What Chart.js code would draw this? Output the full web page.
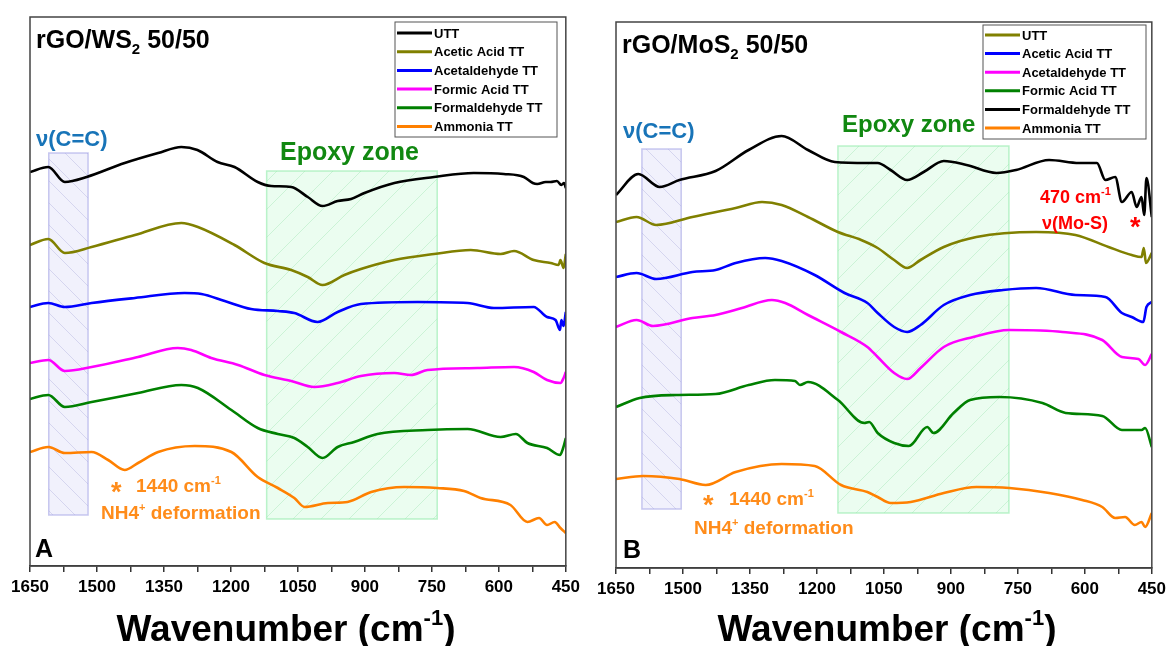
<!DOCTYPE html>
<html>
<head>
<meta charset="utf-8">
<script src="https://cdn.jsdelivr.net/npm/chart.js@4.4.0/dist/chart.umd.min.js"></script>
<style>
    body { margin: 0; background: #fff; }
    #wrap { position: relative; width: 1171px; height: 646px; }
    .panel { position: absolute; top: 0; height: 646px; }
</style>
</head>
<body>
<div id="wrap">
    <div class="panel" style="left:0;width:585px"><canvas id="chartA" width="585" height="646"></canvas></div>
    <div class="panel" style="left:585px;width:586px"><canvas id="chartB" width="586" height="646"></canvas></div>
</div>
<script>
// LEGEND LABELS (same order in both panels)
const labels = ['UTT', 'Acetic Acid TT', 'Acetaldehyde TT', 'Formic Acid TT', 'Formaldehyde TT', 'Ammonia TT'];

// X AXIS
const axisMin = 450;
const axisMax = 1650;
const tickStep = 75;
const labelStep = 150;

// PANEL A : rGO/WS2 50/50  (wavenumber, offset intensity a.u.)
const wsUttX = [1650, 1609, 1572, 1523, 1438, 1363, 1311, 1275, 1230, 1192, 1140, 1110, 1065, 1028, 995, 961, 931, 901, 834, 745, 656, 589, 544, 524, 514, 495, 484, 470, 460, 454, 450];
const wsUttY = [394, 399, 384, 389, 403, 413, 419, 416, 404, 399, 384, 380, 379, 369, 360, 365, 367, 373, 383, 389, 393, 392, 389, 383, 382, 384, 384, 385, 381, 383, 378];

const wsAceticX = [1650, 1609, 1572, 1512, 1415, 1311, 1274, 1192, 1125, 1065, 1028, 995, 946, 909, 834, 745, 663, 596, 566, 522, 484, 466, 462, 455, 450];
const wsAceticY = [321, 327, 313, 319, 331, 343, 339, 321, 303, 296, 289, 281, 291, 297, 306, 312, 316, 312, 315, 306, 303, 301, 306, 298, 312];

const wsAcetaldX = [1650, 1609, 1572, 1512, 1415, 1304, 1266, 1214, 1155, 1095, 1058, 1006, 961, 909, 782, 670, 611, 522, 492, 473, 463, 460, 455, 450];
const wsAcetaldY = [259, 263, 259, 263, 268, 273, 272, 265, 257, 255, 253, 244, 254, 262, 264, 263, 258, 259, 249, 246, 236, 246, 240, 254];

const wsFormicX = [1650, 1609, 1572, 1512, 1408, 1319, 1289, 1244, 1184, 1125, 1065, 1013, 961, 909, 834, 797, 760, 648, 566, 522, 492, 462, 455, 450];
const wsFormicY = [203, 206, 195, 199, 209, 218, 216, 208, 201, 191, 185, 179, 183, 190, 193, 191, 196, 198, 199, 194, 186, 183, 188, 194];

const wsFormaldX = [1650, 1609, 1572, 1512, 1408, 1311, 1274, 1199, 1140, 1095, 1058, 1028, 995, 961, 924, 872, 760, 670, 596, 562, 536, 492, 463, 456, 450];
const wsFormaldY = [167, 171, 159, 164, 173, 181, 178, 156, 138, 132, 128, 119, 108, 119, 124, 132, 136, 137, 129, 132, 123, 118, 111, 118, 128];

const wsAmmoniaX = [1650, 1609, 1572, 1512, 1475, 1438, 1408, 1363, 1281, 1199, 1140, 1095, 1058, 1035, 983, 939, 886, 812, 738, 678, 641, 574, 536, 510, 492, 475, 462, 450];
const wsAmmoniaY = [114, 119, 113, 114, 106, 96, 103, 114, 120, 114, 89, 78, 68, 59, 63, 64, 74, 79, 78, 75, 68, 61, 44, 48, 41, 44, 38, 33];

// PANEL B : rGO/MoS2 50/50
const moUttX = [1650, 1604, 1560, 1479, 1382, 1323, 1279, 1220, 1153, 1101, 1064, 1027, 998, 968, 916, 843, 709, 621, 547, 495, 473, 468, 463, 450];
const moUttY = [346, 351, 343, 351, 360, 366, 363, 351, 336, 328, 320, 308, 300, 308, 321, 331, 336, 333, 321, 313, 311, 320, 305, 315];

const moAceticX = [1650, 1604, 1560, 1479, 1427, 1382, 1316, 1279, 1205, 1138, 1087, 1064, 1027, 998, 968, 916, 857, 783, 709, 621, 554, 517, 495, 469, 462, 450];
const moAceticY = [291, 295, 289, 296, 298, 305, 310, 307, 293, 275, 265, 255, 241, 236, 243, 263, 273, 278, 280, 273, 271, 255, 251, 246, 261, 266];

const moAcetaldX = [1650, 1604, 1567, 1479, 1427, 1368, 1301, 1271, 1220, 1146, 1087, 1064, 1027, 998, 968, 916, 850, 769, 650, 561, 517, 480, 465, 450];
const moAcetaldY = [241, 248, 242, 250, 253, 260, 268, 265, 253, 236, 221, 211, 195, 189, 200, 221, 231, 238, 236, 228, 211, 209, 203, 214];

const moFormicX = [1650, 1597, 1515, 1427, 1353, 1294, 1249, 1238, 1220, 1153, 1094, 1083, 1064, 1027, 994, 953, 939, 894, 857, 791, 695, 643, 561, 517, 473, 465, 450];
const moFormicY = [161, 170, 173, 174, 183, 188, 187, 183, 186, 168, 145, 146, 135, 125, 122, 141, 135, 155, 168, 171, 165, 155, 152, 138, 138, 140, 121];

const moFormaldX = [1650, 1600, 1552, 1508, 1427, 1353, 1279, 1220, 1160, 1087, 1064, 1035, 998, 961, 916, 865, 798, 754, 680, 613, 573, 554, 532, 517, 495, 484, 473, 467, 462, 450];
const moFormaldY = [373, 394, 381, 388, 397, 418, 432, 418, 406, 405, 405, 398, 388, 396, 407, 403, 395, 398, 408, 405, 405, 388, 391, 366, 376, 361, 371, 353, 390, 351];

const moAmmoniaX = [1650, 1589, 1508, 1449, 1382, 1279, 1205, 1146, 1087, 1064, 1035, 990, 916, 843, 769, 680, 606, 561, 532, 510, 488, 473, 465, 450];
const moAmmoniaY = [89, 92, 89, 83, 96, 104, 102, 83, 76, 71, 65, 66, 75, 81, 80, 75, 68, 61, 50, 51, 43, 46, 41, 55];

// SHADED ZONES [from, to, top, bottom]
const wsCC = [1608, 1520, 413, 51];
const wsEpoxy = [1120, 738, 395, 47];
const moCC = [1592, 1504, 419, 59];
const moEpoxy = [1153, 770, 422, 55];

const ORANGE = '#ff8c1a';
const FONT = '"Liberation Sans", Arial, sans-serif';

function points(xs, ys) {
    return xs.map((x, i) => ({ x: x, y: ys[i] }));
}

function makeSets(series, colors) {
    return series.map((s, i) => ({
        label: labels[i],
        data: points(s[0], s[1]),
        borderColor: colors[i],
        borderWidth: 2.6,
        pointRadius: 0,
        fill: false,
        cubicInterpolationMode: 'monotone'
    }));
}

// HATCH PATTERN
function hatch(ctx, color, size, dir) {
    const c = document.createElement('canvas');
    c.width = size; c.height = size;
    const g = c.getContext('2d');
    g.strokeStyle = color;
    g.lineWidth = 1;
    g.beginPath();
    if (dir > 0) {
        g.moveTo(0, size); g.lineTo(size, 0);
        g.moveTo(-2, 2); g.lineTo(2, -2);
        g.moveTo(size - 2, size + 2); g.lineTo(size + 2, size - 2);
    } else {
        g.moveTo(0, 0); g.lineTo(size, size);
        g.moveTo(size - 2, -2); g.lineTo(size + 2, 2);
        g.moveTo(-2, size - 2); g.lineTo(2, size + 2);
    }
    g.stroke();
    return ctx.createPattern(c, 'repeat');
}

// TEXT WITH SUB / SUPERSCRIPTS
function rich(ctx, t) {
    const size = t.size;
    const fontFor = m => 'bold ' + (m ? Math.round(size * 0.6) : size) + 'px ' + FONT;
    let w = 0;
    t.parts.forEach(([s, m]) => { ctx.font = fontFor(m); w += ctx.measureText(s).width; });
    let cx = t.align === 'center' ? t.x - w / 2 : t.x;
    ctx.fillStyle = t.color || '#000';
    ctx.textBaseline = 'alphabetic';
    ctx.textAlign = 'left';
    t.parts.forEach(([s, m]) => {
        ctx.font = fontFor(m);
        const dy = m === 1 ? -size * 0.42 : (m === -1 ? size * 0.25 : 0);
        ctx.fillText(s, cx, t.y + dy);
        cx += ctx.measureText(s).width;
    });
}

const decor = {
    id: 'decor',
    beforeDatasetsDraw(chart, args, opts) {
        const { ctx, scales: { x, y } } = chart;
        opts.zones.forEach(z => {
            const x1 = x.getPixelForValue(z.range[0]);
            const x2 = x.getPixelForValue(z.range[1]);
            const y1 = y.getPixelForValue(z.range[2]);
            const y2 = y.getPixelForValue(z.range[3]);
            ctx.save();
            ctx.fillStyle = z.fill;
            ctx.fillRect(x1, y1, x2 - x1, y2 - y1);
            ctx.fillStyle = hatch(ctx, z.hatch, z.step, z.dir);
            ctx.fillRect(x1, y1, x2 - x1, y2 - y1);
            ctx.strokeStyle = z.border;
            ctx.lineWidth = 1.5;
            ctx.strokeRect(x1, y1, x2 - x1, y2 - y1);
            ctx.restore();
        });
    },
    afterDraw(chart, args, opts) {
        const { ctx, chartArea: a } = chart;
        ctx.save();

        // FRAME
        ctx.strokeStyle = '#444';
        ctx.lineWidth = 1.5;
        ctx.strokeRect(a.left, a.top, a.right - a.left, a.bottom - a.top);

        // LEGEND
        const L = opts.legend;
        ctx.strokeStyle = '#555';
        ctx.lineWidth = 1;
        ctx.strokeRect(L.x, L.y, L.w, L.h);
        chart.data.datasets.forEach((ds, i) => {
            const yy = L.y + L.first + i * L.gap;
            ctx.strokeStyle = ds.borderColor;
            ctx.lineWidth = 3;
            ctx.beginPath();
            ctx.moveTo(L.x + 2, yy);
            ctx.lineTo(L.x + 37, yy);
            ctx.stroke();
            ctx.fillStyle = '#000';
            ctx.font = 'bold 13px ' + FONT;
            ctx.textBaseline = 'middle';
            ctx.fillText(ds.label, L.x + 39, yy + 1);
        });

        // ANNOTATIONS
        opts.texts.forEach(t => rich(ctx, t));
        ctx.restore();
    }
};

function makeChart(id, sets, o) {
    return new Chart(document.getElementById(id), {
        type: 'line',
        data: { datasets: sets },
        plugins: [decor],
        options: {
            responsive: false,
            animation: false,
            events: [],
            layout: { padding: o.padding },
            scales: {
                x: {
                    type: 'linear',
                    reverse: true,
                    min: axisMin,
                    max: axisMax,
                    afterFit: s => { s.height = o.axisHeight; },
                    ticks: {
                        stepSize: tickStep,
                        autoSkip: false,
                        maxRotation: 0,
                        padding: 5,
                        color: '#000',
                        font: { family: FONT, size: 17, weight: 'bold' },
                        callback: v => ((v - axisMin) % labelStep === 0 ? v : '')
                    },
                    grid: { drawOnChartArea: false, tickLength: 6, color: '#333', lineWidth: 1.5 },
                    border: { display: true, color: '#333', width: 1.5 }
                },
                y: { display: false, min: 0, max: o.yMax }
            },
            plugins: {
                legend: { display: false },
                tooltip: { enabled: false },
                decor: { zones: o.zones, legend: o.legend, texts: o.texts }
            }
        }
    });
}

function zonesFor(cc, epoxy) {
    return [
        { range: cc, fill: 'rgba(210,210,245,0.32)', hatch: 'rgba(160,160,215,0.35)', border: 'rgba(165,165,230,0.6)', step: 22, dir: -1 },
        { range: epoxy, fill: 'rgba(165,245,185,0.22)', hatch: 'rgba(150,225,170,0.38)', border: 'rgba(145,235,170,0.6)', step: 28, dir: 1 }
    ];
}

// PANEL A
makeChart('chartA', makeSets([
    [wsUttX, wsUttY], [wsAceticX, wsAceticY], [wsAcetaldX, wsAcetaldY],
    [wsFormicX, wsFormicY], [wsFormaldX, wsFormaldY], [wsAmmoniaX, wsAmmoniaY]
], ['#000000', '#808000', '#0000ff', '#ff00ff', '#008000', '#ff8000']), {
    padding: { left: 30, right: 18, top: 17, bottom: 0 },
    axisHeight: 80,
    yMax: 549,
    zones: zonesFor(wsCC, wsEpoxy),
    legend: { x: 395, y: 22, w: 162, h: 115, first: 11, gap: 18.7 },
    texts: [
        { parts: [['rGO/WS', 0], ['2', -1], [' 50/50', 0]], x: 36, y: 48, size: 25 },
        { parts: [['ν(C=C)', 0]], x: 36, y: 146, size: 22, color: '#1874b8' },
        { parts: [['Epoxy zone', 0]], x: 280, y: 160, size: 25, color: '#118811' },
        { parts: [['*', 0]], x: 111, y: 501, size: 27, color: ORANGE },
        { parts: [['1440 cm', 0], ['-1', 1]], x: 136, y: 492, size: 19, color: ORANGE },
        { parts: [['NH4', 0], ['+', 1], [' deformation', 0]], x: 101, y: 519, size: 19, color: ORANGE },
        { parts: [['A', 0]], x: 35, y: 557, size: 25 },
        { parts: [['Wavenumber (cm', 0], ['-1', 1], [')', 0]], x: 286, y: 641, size: 37, align: 'center' }
    ]
});

// PANEL B
makeChart('chartB', makeSets([
    [moUttX, moUttY], [moAceticX, moAceticY], [moAcetaldX, moAcetaldY],
    [moFormicX, moFormicY], [moFormaldX, moFormaldY], [moAmmoniaX, moAmmoniaY]
], ['#808000', '#0000ff', '#ff00ff', '#008000', '#000000', '#ff8000']), {
    padding: { left: 31, right: 17, top: 22, bottom: 0 },
    axisHeight: 78,
    yMax: 546,
    zones: zonesFor(moCC, moEpoxy),
    legend: { x: 398, y: 25, w: 163, h: 114, first: 10, gap: 18.6 },
    texts: [
        { parts: [['rGO/MoS', 0], ['2', -1], [' 50/50', 0]], x: 37, y: 53, size: 25 },
        { parts: [['ν(C=C)', 0]], x: 38, y: 138, size: 22, color: '#1874b8' },
        { parts: [['Epoxy zone', 0]], x: 257, y: 132, size: 24, color: '#118811' },
        { parts: [['470 cm', 0], ['-1', 1]], x: 455, y: 203, size: 18, color: '#ff0000' },
        { parts: [['ν(Mo-S)', 0]], x: 457, y: 229, size: 18, color: '#ff0000' },
        { parts: [['*', 0]], x: 545, y: 236, size: 27, color: '#ff0000' },
        { parts: [['*', 0]], x: 118, y: 514, size: 27, color: ORANGE },
        { parts: [['1440 cm', 0], ['-1', 1]], x: 144, y: 505, size: 19, color: ORANGE },
        { parts: [['NH4', 0], ['+', 1], [' deformation', 0]], x: 109, y: 534, size: 19, color: ORANGE },
        { parts: [['B', 0]], x: 38, y: 558, size: 25 },
        { parts: [['Wavenumber (cm', 0], ['-1', 1], [')', 0]], x: 302, y: 641, size: 37, align: 'center' }
    ]
});
</script>
</body>
</html>
